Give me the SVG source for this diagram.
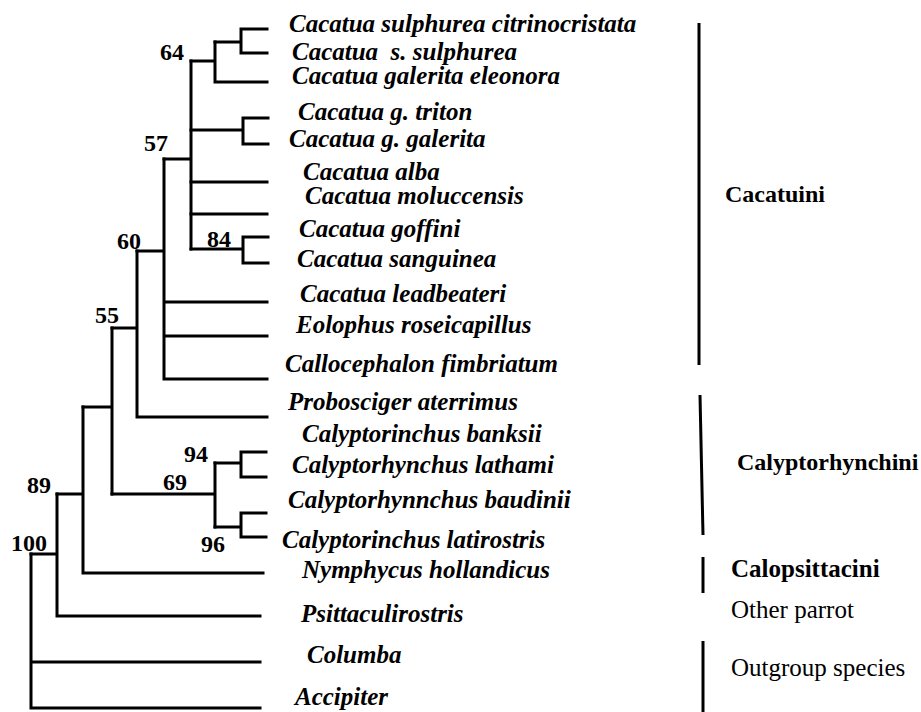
<svg xmlns="http://www.w3.org/2000/svg" width="921" height="712" viewBox="0 0 921 712">
<style>
.br{stroke:#000;stroke-width:3;fill:none;stroke-linecap:square}
.bar{stroke:#000;stroke-width:3;fill:none}
.tx{font-family:"Liberation Serif","Times New Roman",serif;font-size:25px;font-weight:bold;font-style:italic;fill:#000}
.bs{font-family:"Liberation Serif","Times New Roman",serif;font-size:24px;font-weight:bold;fill:#000}
.cl{font-family:"Liberation Serif","Times New Roman",serif;font-size:24px;font-weight:bold;fill:#000}
.rg{font-family:"Liberation Serif","Times New Roman",serif;font-size:25px;fill:#000}
</style>
<rect width="921" height="712" fill="#fff"/>
<g id="connectors">
<path class="br" d="M241 29H267M241 53H267M241 29V53M215 42H241"/>
<path class="br" d="M215 42V82M215 82H267M191 61H215"/>
<path class="br" d="M243 118H268M243 144H268M243 118V144M191 130H243"/>
<path class="br" d="M191 182H267M191 214H267"/>
<path class="br" d="M243 237H268M243 263H268M243 237V263M191 249H243"/>
<path class="br" d="M191 61V249M164 159H191"/>
<path class="br" d="M164 159V379M164 302H267M164 336H267M164 379H267M137 251H164"/>
<path class="br" d="M137 251V417M137 417H267M112 328H137"/>
<path class="br" d="M241 452H266M241 477H266M241 452V477M215 463H241"/>
<path class="br" d="M241 513H266M241 537H266M241 513V537M215 527H241"/>
<path class="br" d="M215 463V527M112 494H215"/>
<path class="br" d="M112 328V494M83 407H112"/>
<path class="br" d="M83 407V573M83 573H263M57 494H83"/>
<path class="br" d="M57 494V616M57 616H260M31 554H57"/>
<path class="br" d="M31 554V708M31 662H260M31 708H260"/>
</g>
<g id="taxa">
<g id="t1"><text class="tx" x="289" y="32">Cacatua sulphurea citrinocristata</text></g>
<g id="t2"><text class="tx" x="292" y="60" xml:space="preserve">Cacatua  s. sulphurea</text></g>
<g id="t3"><text class="tx" x="292" y="84">Cacatua galerita eleonora</text></g>
<g id="t4"><text class="tx" x="298" y="120">Cacatua g. triton</text></g>
<g id="t5"><text class="tx" x="289" y="147">Cacatua g. galerita</text></g>
<g id="t6"><text class="tx" x="303" y="180">Cacatua alba</text></g>
<g id="t7"><text class="tx" x="305" y="204">Cacatua moluccensis</text></g>
<g id="t8"><text class="tx" x="299" y="237">Cacatua goffini</text></g>
<g id="t9"><text class="tx" x="297" y="267">Cacatua sanguinea</text></g>
<g id="t10"><text class="tx" x="300" y="302">Cacatua leadbeateri</text></g>
<g id="t11"><text class="tx" x="296" y="333">Eolophus roseicapillus</text></g>
<g id="t12"><text class="tx" x="285" y="372">Callocephalon fimbriatum</text></g>
<g id="t13"><text class="tx" x="288" y="410">Probosciger aterrimus</text></g>
<g id="t14"><text class="tx" x="302" y="442">Calyptorinchus banksii</text></g>
<g id="t15"><text class="tx" x="292" y="473">Calyptorhynchus lathami</text></g>
<g id="t16"><text class="tx" x="288" y="508">Calyptorhynnchus baudinii</text></g>
<g id="t17"><text class="tx" x="282" y="548">Calyptorinchus latirostris</text></g>
<g id="t18"><text class="tx" x="302" y="578">Nymphycus hollandicus</text></g>
<g id="t19"><text class="tx" x="301" y="622">Psittaculirostris</text></g>
<g id="t20"><text class="tx" x="307" y="663">Columba</text></g>
<g id="t21"><text class="tx" x="295" y="705">Accipiter</text></g>
</g>
<g id="bootstrap">
<g id="b64"><text class="bs" x="160" y="60">64</text></g>
<g id="b57"><text class="bs" x="144" y="151">57</text></g>
<g id="b84"><text class="bs" x="207" y="247">84</text></g>
<g id="b60"><text class="bs" x="117" y="249">60</text></g>
<g id="b55"><text class="bs" x="95" y="323">55</text></g>
<g id="b94"><text class="bs" x="184" y="462">94</text></g>
<g id="b69"><text class="bs" x="163" y="490">69</text></g>
<g id="b96"><text class="bs" x="201" y="552">96</text></g>
<g id="b89"><text class="bs" x="27" y="493">89</text></g>
<g id="b100"><text class="bs" x="11" y="551">100</text></g>
</g>
<g id="clades">
<g id="cacatuini"><path class="bar" d="M699 23V365"/><text class="cl" x="725" y="202" font-size="25">Cacatuini</text></g>
<g id="calyptorhynchini"><path class="bar" d="M700 395L703 535"/><text class="cl" x="737" y="470">Calyptorhynchini</text></g>
<g id="calopsittacini"><path class="bar" d="M703 557V593"/><text class="cl" x="731" y="577" style="font-size:25px">Calopsittacini</text></g>
<g id="other"><text class="rg" x="731" y="618">Other parrot</text></g>
<g id="outgroup"><path class="bar" d="M703 641V712"/><text class="rg" x="731" y="676">Outgroup species</text></g>
</g>
</svg>
